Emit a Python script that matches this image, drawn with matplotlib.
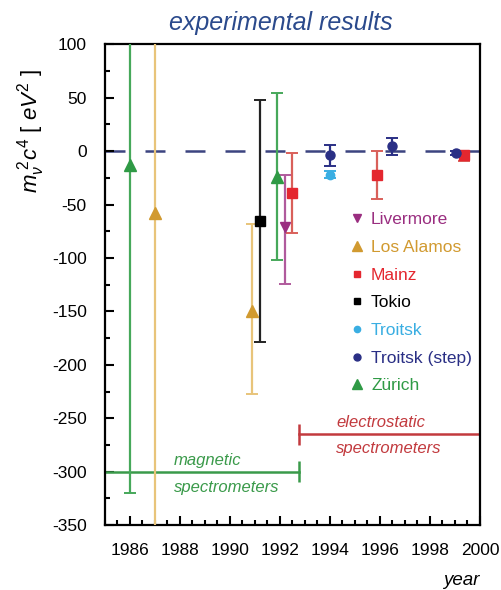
import numpy as np
import matplotlib.pyplot as plt
from matplotlib.lines import Line2D
from matplotlib.ticker import MultipleLocator

plt.rcParams['font.family'] = ['Liberation Sans', 'DejaVu Sans']
plt.rcParams['mathtext.fontset'] = 'custom'
plt.rcParams['mathtext.it'] = 'Liberation Sans:italic'
plt.rcParams['mathtext.rm'] = 'Liberation Sans'
plt.rcParams['axes.unicode_minus'] = False

# experiments: year, m^2 value, lower error, upper error (eV^2)
livermore_year = [1992.2]
livermore_val = [-71]
livermore_lo = [53]
livermore_hi = [49]

losalamos_year = [1987.0, 1990.9]
losalamos_val = [-58, -150]
losalamos_lo = [320, 77]
losalamos_hi = [200, 82]

mainz_year = [1992.5, 1995.9, 1999.35]
mainz_val = [-39, -22, -4]
mainz_lo = [38, 23, 5]
mainz_hi = [37, 22, 4]

tokio_year = [1991.2]
tokio_val = [-65]
tokio_lo = [114]
tokio_hi = [113]

troitsk_year = [1994.0]
troitsk_val = [-22]
troitsk_lo = [3]
troitsk_hi = [3]

troitsk_step_year = [1994.0, 1996.5, 1999.05]
troitsk_step_val = [-4, 5, -2]
troitsk_step_lo = [10, 9, 2]
troitsk_step_hi = [10, 7, 2]

zurich_year = [1986.0, 1991.9]
zurich_val = [-13, -24]
zurich_lo = [307, 78]
zurich_hi = [200, 78]

# spectrometer era bands
magnetic_span = (1985.0, 1992.75)
magnetic_level = -300
electro_span = (1992.75, 2000.0)
electro_level = -265

fig = plt.figure(figsize=(5.02, 5.90), dpi=100)
ax = fig.add_axes([0.209, 0.110, 0.747, 0.815])

ax.axhline(0, color='#3c4480', lw=1.8, dashes=(8, 8), zorder=1)

series = [
    ('Livermore', livermore_year, livermore_val, livermore_lo, livermore_hi, 'v', '#9a2e80', '#b05a9c', 7),
    ('Los Alamos', losalamos_year, losalamos_val, losalamos_lo, losalamos_hi, '^', '#d19a30', '#e8c47a', 8),
    ('Mainz', mainz_year, mainz_val, mainz_lo, mainz_hi, 's', '#e4272f', '#d9605a', 6.5),
    ('Tokio', tokio_year, tokio_val, tokio_lo, tokio_hi, 's', '#000000', '#222222', 6.5),
    ('Troitsk', troitsk_year, troitsk_val, troitsk_lo, troitsk_hi, 'o', '#3aaee2', '#3aaee2', 6),
    ('Troitsk (step)', troitsk_step_year, troitsk_step_val, troitsk_step_lo, troitsk_step_hi, 'o', '#2a2f85', '#2a2f85', 6.5),
    ('Zürich', zurich_year, zurich_val, zurich_lo, zurich_hi, '^', '#2f9a45', '#46a85a', 8),
]

handles = []
for name, yr, val, lo, hi, mk, col, ecol, ms in series:
    ax.errorbar(yr, val, yerr=[lo, hi], fmt=mk, color=col, ecolor=ecol,
                ms=ms, elinewidth=1.6, capsize=4, capthick=1.4, zorder=3)
    handles.append(Line2D([], [], ls='none', marker=mk, color=col, ms=ms - 1.5))

leg = ax.legend(handles, [s[0] for s in series], loc='upper left',
                bbox_to_anchor=(0.608, 0.683), frameon=False, fontsize=12.5,
                handletextpad=0.3, labelspacing=0.72, handlelength=1.0,
                labelcolor=[s[6] for s in series])

# spectrometer bands
ax.errorbar([magnetic_span[1]], [magnetic_level], yerr=[[10], [10]], fmt='none',
            ecolor='#3a9a4a', elinewidth=1.8, capsize=0)
ax.plot(magnetic_span, [magnetic_level] * 2, color='#3a9a4a', lw=1.8)
ax.errorbar([electro_span[0]], [electro_level], yerr=[[10], [10]], fmt='none',
            ecolor='#c23a3e', elinewidth=1.8, capsize=0)
ax.plot(electro_span, [electro_level] * 2, color='#c23a3e', lw=1.8)

ax.text(1987.75, magnetic_level + 10, 'magnetic', color='#3a9a4a', fontsize=12,
        style='italic', va='center', ha='left')
ax.text(1987.75, magnetic_level - 15, 'spectrometers', color='#3a9a4a', fontsize=12,
        style='italic', va='center', ha='left')
ax.text(1994.25, electro_level + 11, 'electrostatic', color='#c23a3e', fontsize=12,
        style='italic', va='center', ha='left')
ax.text(1994.25, electro_level - 13, 'spectrometers', color='#c23a3e', fontsize=12,
        style='italic', va='center', ha='left')

ax.set_xlim(1985, 2000)
ax.set_ylim(-350, 100)
ax.xaxis.set_major_locator(MultipleLocator(2))
ax.xaxis.set_minor_locator(MultipleLocator(0.5))
ax.yaxis.set_major_locator(MultipleLocator(50))
ax.yaxis.set_minor_locator(MultipleLocator(25))
ax.tick_params(which='both', direction='in', top=False, right=False, labelsize=12.5, width=1.5)
ax.tick_params(which='major', length=6.5, pad=13)
ax.tick_params(which='minor', length=3.5)
for sp in ax.spines.values():
    sp.set_linewidth(1.6)

ax.set_title('experimental results', color='#2b4a8c', fontsize=18, style='italic',
             x=0.47, pad=10)
ax.set_ylabel(r'$m_{\nu}^{\ 2}c^{4}\ [\ eV^{2}\ ]$', fontsize=16)
ax.yaxis.set_label_coords(-0.155, 0.82)
ax.set_xlabel('year', loc='right', style='italic', fontsize=13.5, labelpad=10)

fig.savefig('out.png', dpi=100)
